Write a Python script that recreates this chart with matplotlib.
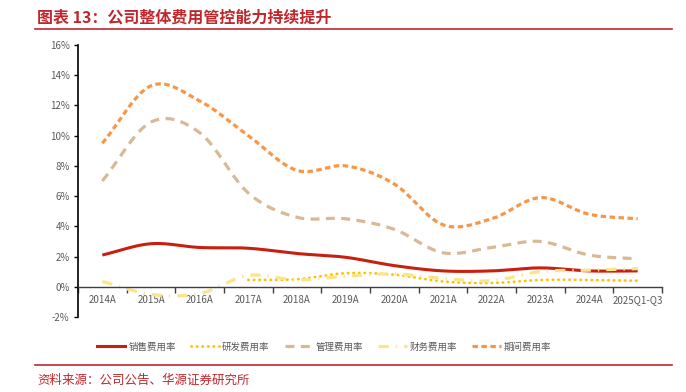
import numpy as np
import matplotlib
matplotlib.use("Agg")
import matplotlib.pyplot as plt
from matplotlib.lines import Line2D

plt.rcParams['font.family'] = ['Noto Sans CJK SC', 'DejaVu Sans']

categories = ["2014A", "2015A", "2016A", "2017A", "2018A", "2019A", "2020A",
              "2021A", "2022A", "2023A", "2024A", "2025Q1-Q3"]
sales = [2.1, 2.85, 2.6, 2.55, 2.2, 1.95, 1.4, 1.05, 1.05, 1.25, 1.05, 1.05]
rnd = [np.nan, np.nan, np.nan, 0.45, 0.5, 0.9, 0.8, 0.35, 0.25, 0.45, 0.45, 0.4]
admin = [7.0, 10.9, 10.2, 6.2, 4.6, 4.5, 3.8, 2.25, 2.6, 3.0, 2.1, 1.85]
finance = [0.35, -0.5, -0.45, 0.75, 0.45, 0.7, 0.85, 0.55, 0.4, 1.0, 1.1, 1.2]
period = [9.5, 13.3, 12.3, 10.0, 7.7, 8.0, 6.8, 4.1, 4.5, 5.9, 4.8, 4.5]

names = ["销售费用率", "研发费用率", "管理费用率", "财务费用率", "期间费用率"]
yticks = [-2, 0, 2, 4, 6, 8, 10, 12, 14, 16]


def smooth(x, y, n=30):
    """Catmull-Rom spline through the points (like Excel smoothed lines)."""
    x = np.asarray(x, float)
    y = np.asarray(y, float)
    if len(x) < 3:
        return x, y
    px = np.concatenate([[2 * x[0] - x[1]], x, [2 * x[-1] - x[-2]]])
    py = np.concatenate([[2 * y[0] - y[1]], y, [2 * y[-1] - y[-2]]])
    xs, ys = [], []
    t = np.linspace(0, 1, n, endpoint=False)
    for i in range(1, len(px) - 2):
        def cr(a0, a1, a2, a3):
            return 0.5 * ((2 * a1) + (-a0 + a2) * t + (2 * a0 - 5 * a1 + 4 * a2 - a3) * t ** 2
                          + (-a0 + 3 * a1 - 3 * a2 + a3) * t ** 3)
        xs.append(cr(px[i - 1], px[i], px[i + 1], px[i + 2]))
        ys.append(cr(py[i - 1], py[i], py[i + 1], py[i + 2]))
    xs.append([x[-1]])
    ys.append([y[-1]])
    return np.concatenate(xs), np.concatenate(ys)


fig = plt.figure(figsize=(6.86, 3.92), dpi=100)
ax = fig.add_axes([78 / 686, 1 - 317 / 392, (662 - 78) / 686, (317 - 45) / 392])

xidx = np.arange(len(categories))

styles = [
    (sales, dict(color="#C8200E", lw=2.2, linestyle="-")),
    (rnd, dict(color="#FFC000", lw=2.0, linestyle=(0, (0.1, 1.9)), dash_capstyle="round")),
    (admin, dict(color="#D8B995", lw=2.3, linestyle=(0, (2.8, 2.0)))),
    (finance, dict(color="#FBE58A", lw=2.3, linestyle=(0, (3.2, 2.2, 0.4, 2.2)))),
    (period, dict(color="#F79646", lw=2.3, linestyle=(0, (1.7, 1.1)))),
]

for vals, st in styles:
    v = np.asarray(vals, float)
    mask = ~np.isnan(v)
    sx, sy = smooth(xidx[mask], v[mask])
    ax.plot(sx, sy, solid_capstyle="butt", **st)

ax.set_xlim(-0.5, len(categories) - 0.5)
ax.set_ylim(-2, 16)
ax.set_yticks(yticks)
ax.set_yticklabels([f"{v}%" for v in yticks])
ax.set_xticks(xidx)
ax.set_xticklabels(categories)
ax.set_xticks(np.arange(-0.5, len(categories), 1.0), minor=True)

for s in ["top", "right"]:
    ax.spines[s].set_visible(False)
ax.spines["bottom"].set_position(("data", 0))
ax.spines["bottom"].set_color("#404040")
ax.spines["bottom"].set_linewidth(1.0)
ax.spines["left"].set_color("#000000")
ax.spines["left"].set_linewidth(1.2)

ax.tick_params(axis="x", which="major", length=0, pad=6, labelsize=7, labelcolor="#595959")
ax.tick_params(axis="x", which="minor", length=4, direction="out", color="#404040", width=1)
ax.tick_params(axis="y", length=3, direction="out", width=1, labelsize=7, labelcolor="#595959", pad=3)

handles = [Line2D([0], [0], **st) for _, st in styles]
fig.legend(handles, names, loc="center", bbox_to_anchor=(324 / 686, 1 - 347 / 392), ncol=5,
           frameon=False, fontsize=6.8, handlelength=3.0, columnspacing=1.6, handletextpad=0.3,
           labelcolor="#595959")

red = "#C0272D"
fig.text(37 / 686, 1 - 18 / 392, "图表 13：公司整体费用管控能力持续提升", color=red,
         fontsize=11.5, fontweight="bold", va="center", ha="left")
fig.add_artist(Line2D([35 / 686, 672 / 686], [1 - 29 / 392, 1 - 29 / 392], color=red, lw=1.2))
fig.add_artist(Line2D([35 / 686, 672 / 686], [1 - 365 / 392, 1 - 365 / 392], color=red, lw=1.2))
fig.text(37 / 686, 1 - 380 / 392, "资料来源：公司公告、华源证券研究所", color=red,
         fontsize=9, va="center", ha="left")

fig.savefig("out.png", dpi=100)
